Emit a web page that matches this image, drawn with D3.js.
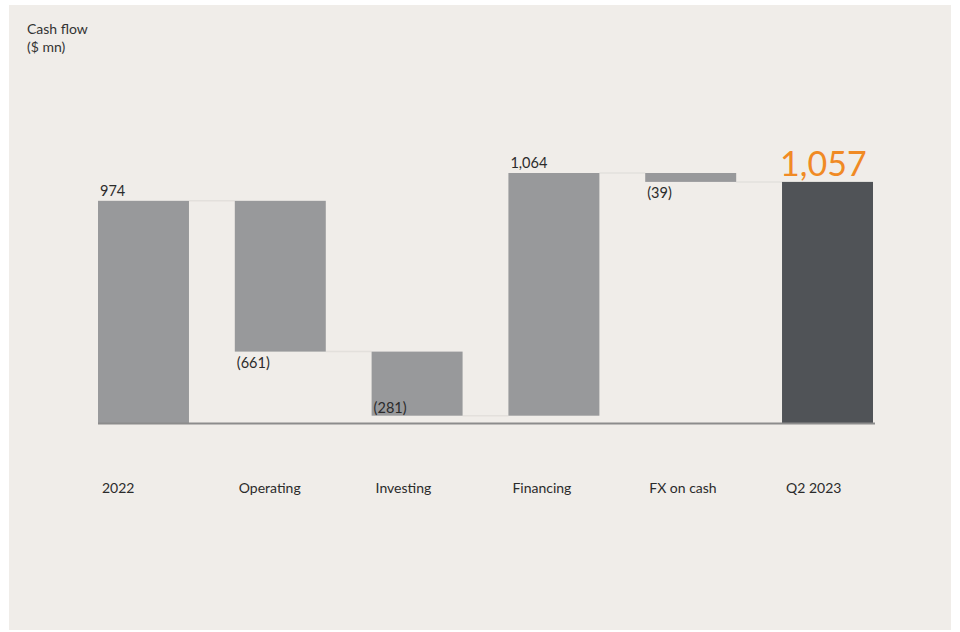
<!DOCTYPE html>
<html>
<head>
<meta charset="utf-8">
<script src="https://cdn.jsdelivr.net/npm/d3@7"></script>
<style>
  html, body { margin: 0; padding: 0; background: #ffffff; }
  svg { display: block; }
  text { font-family: Lato, "Open Sans", sans-serif; }
</style>
</head>
<body>
<svg id="chart" width="960" height="632"></svg>
<script>
// ---- data ----
const categories = ["2022", "Operating", "Investing", "Financing", "FX on cash", "Q2 2023"];
const values = [974, -661, -281, 1064, -39, 1057];
const kinds = ["total", "delta", "delta", "delta", "delta", "total"];
const valueLabels = ["974", "(661)", "(281)", "1,064", "(39)", "1,057"];
const titleLines = ["Cash flow", "($ mn)"];

// ---- build waterfall ----
let running = 0;
const bars = categories.map((c, i) => {
  let start, end;
  if (kinds[i] === "total") { start = 0; end = values[i]; running = values[i]; }
  else { start = running; end = running + values[i]; running = end; }
  return { cat: c, start, end, value: values[i], kind: kinds[i], label: valueLabels[i], i };
});

const svg = d3.select("#chart");

// panel
svg.append("rect").attr("x", 9).attr("y", 5).attr("width", 942).attr("height", 625)
  .attr("fill", "#f0ede9");

const x = d3.scaleBand().domain(categories).range([98, 873]).paddingInner(0.335).paddingOuter(0);
const y = d3.scaleLinear().domain([0, 1096]).range([423, 173]);

// title
svg.append("text").attr("x", 27).attr("y", 34).attr("font-size", 14).attr("fill", "#333")
  .text(titleLines[0]);
svg.append("text").attr("x", 27).attr("y", 52).attr("font-size", 14).attr("fill", "#333")
  .text(titleLines[1]);

// connectors
for (let i = 0; i < bars.length - 1; i++) {
  const lvl = bars[i].end;
  svg.append("line")
    .attr("x1", x(bars[i].cat) + x.bandwidth()).attr("x2", x(bars[i + 1].cat))
    .attr("y1", y(lvl)).attr("y2", y(lvl))
    .attr("stroke", "#e3e0dc").attr("stroke-width", 1.5);
}

// bars
svg.selectAll("rect.bar").data(bars).enter().append("rect")
  .attr("class", "bar")
  .attr("x", d => x(d.cat))
  .attr("width", x.bandwidth())
  .attr("y", d => y(Math.max(d.start, d.end)))
  .attr("height", d => Math.abs(y(d.start) - y(d.end)))
  .attr("fill", d => d.i === bars.length - 1 ? "#505357" : "#98999b");

// baseline axis
svg.append("line").attr("x1", 98).attr("x2", 875).attr("y1", y(0) + 0.5).attr("y2", y(0) + 0.5)
  .attr("stroke", "#8c8c8c").attr("stroke-width", 2);

// value labels
bars.forEach(d => {
  const top = y(Math.max(d.start, d.end));
  const bottom = y(Math.min(d.start, d.end));
  const last = d.i === bars.length - 1;
  let ly;
  if (last) ly = top - 6;
  else if (d.value >= 0) ly = top - 5;
  else ly = Math.min(bottom + 16, y(0) - 10);
  svg.append("text")
    .attr("x", x(d.cat) + (last ? -2 : 2))
    .attr("y", ly)
    .attr("font-size", last ? 34 : 14.5)
    .attr("fill", last ? "#f08a24" : "#2b2b2b")
    .text(d.label);
});

// category labels
categories.forEach(c => {
  svg.append("text").attr("x", x(c) + 4).attr("y", 493)
    .attr("font-size", 14).attr("fill", "#2b2b2b").text(c);
});
</script>
</body>
</html>
